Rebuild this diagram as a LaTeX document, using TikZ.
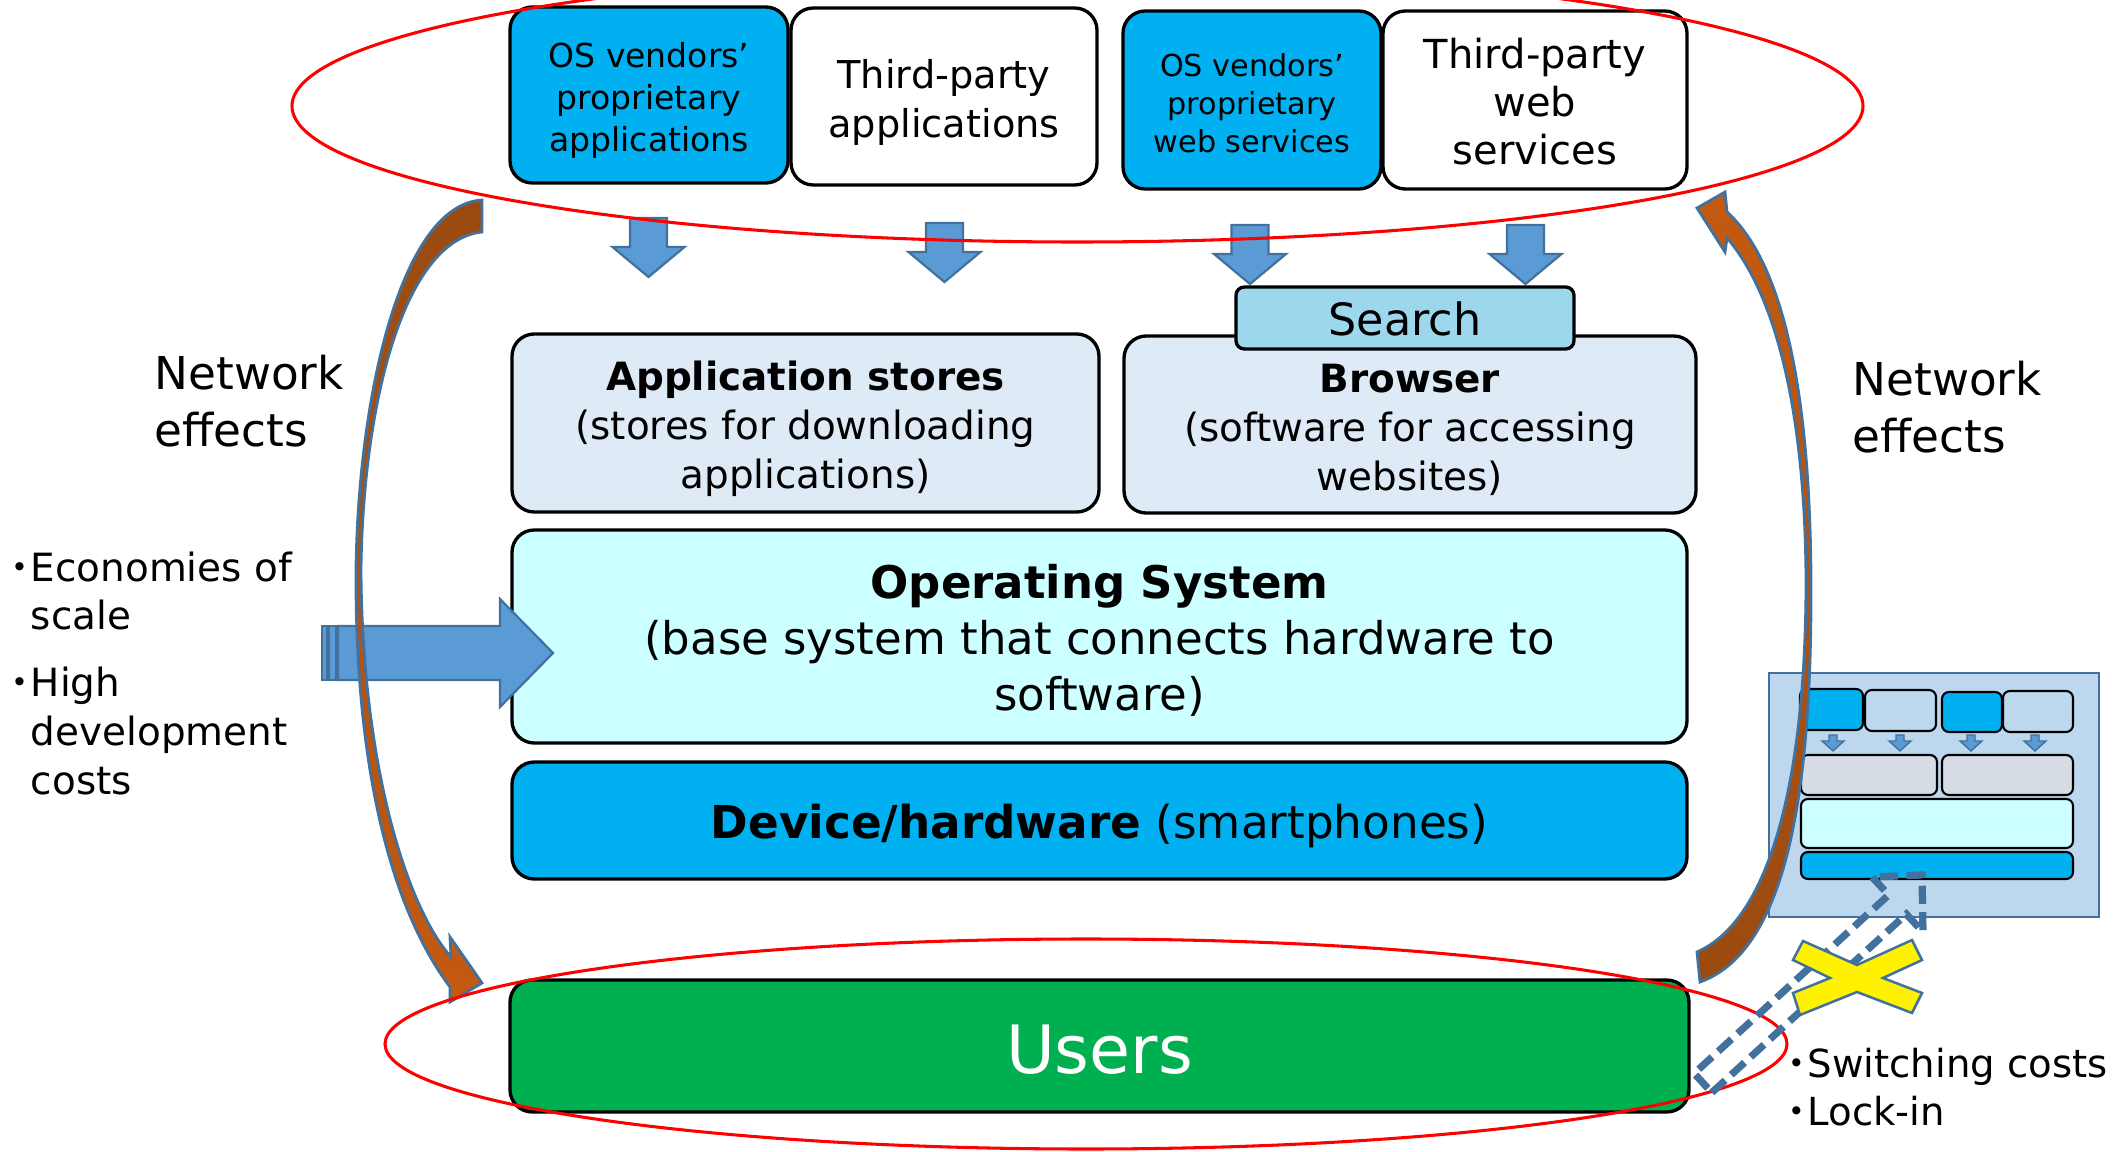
\documentclass[tikz,border=0pt]{standalone}
\usepackage{fontspec}
\setmainfont{DejaVu Sans}
\newfontfamily\jpfont{Noto Sans CJK JP}
\newcommand\jdot{{\jpfont ・}\kern-0.22em}
\newcommand\setfs[2]{\fontsize{#1}{#2}\selectfont}
\definecolor{cblue}{HTML}{00B0F0}
\definecolor{clight}{HTML}{DEEBF7}
\definecolor{csearch}{HTML}{9DD7EB}
\definecolor{cos}{HTML}{CCFFFF}
\definecolor{cgreen}{HTML}{00B050}
\definecolor{arrfill}{HTML}{5B9BD5}
\definecolor{arredge}{HTML}{41719C}
\definecolor{brownA}{HTML}{9A4A10}
\definecolor{brownB}{HTML}{C55A11}
\definecolor{panelfill}{HTML}{BDD7EE}
\definecolor{pgrey}{HTML}{D6DCE4}
\tikzset{
 box/.style={draw=black, line width=1.2pt, rounded corners=8pt, inner sep=0pt},
 boxtext/.style={align=center, inner sep=0pt, yshift=-2pt},
 blockarrow/.style={fill=arrfill, draw=arredge, line width=0.8pt, line join=miter},
 ring/.style={draw=red, line width=1.1pt},
 curvearrow/.style={draw=arredge, line width=1pt, line join=miter},
 sbox/.style={draw=black, line width=0.75pt, rounded corners=2.5pt},
 panel/.style={fill=panelfill, draw=arredge, line width=0.8pt},
 dashblock/.style={draw=arredge, line width=2.6pt, dash pattern=on 6.5pt off 3pt, line join=miter},
 cross/.style={fill=yellow, draw=arredge, line width=0.9pt, line join=miter},
 lbl/.style={inner sep=0pt, align=left, anchor=west},
}
% name, box style, text style, x1, y1, x2, y2, text
\newcommand\mkbox[8]{\node[box,#2,minimum width={(#6-#4)*0.36pt},minimum height={(#7-#5)*0.36pt}] (#1) at ({(#4+#6)/2},{(#5+#7)/2}) {};
 \node[boxtext,#3] (#1-text) at (#1.center) {#8};}
\newcommand\bigdown[2]{\draw[blockarrow] ({#1-18.5},#2) -- ({#1+18.5},#2) -- ({#1+18.5},{#2+29}) -- ({#1+36},{#2+29}) -- (#1,{#2+59}) -- ({#1-36},{#2+29}) -- ({#1-18.5},{#2+29}) -- cycle;}
\newcommand\smalldown[2]{\draw[blockarrow,line width=0.5pt] ({#1-4},#2) -- ({#1+4},#2) -- ({#1+4},{#2+6}) -- ({#1+11},{#2+6}) -- (#1,{#2+16}) -- ({#1-11},{#2+6}) -- ({#1-4},{#2+6}) -- cycle;}
\begin{document}
\begin{tikzpicture}[x=0.36pt,y=-0.36pt]
\useasboundingbox (0,0) rectangle (2123,1152);
\clip (0,0) rectangle (2123,1152);
\fill[white] (0,0) rectangle (2123,1152);

% top row
\mkbox{b1}{fill=cblue}{font=\setfs{11.9}{15.1}}{510}{7}{788}{183}{OS vendors’\\proprietary\\applications}
\mkbox{b2}{fill=white}{font=\setfs{13.8}{17.6}}{791}{8}{1097}{185}{Third-party\\applications}
\mkbox{b3}{fill=cblue}{font=\setfs{10.9}{13.7},yshift=1pt}{1123}{11}{1381}{189}{OS vendors’\\proprietary\\web services}
\mkbox{b4}{fill=white}{font=\setfs{14.4}{17.3},yshift=1.5pt}{1383}{11}{1687}{189}{Third-party\\web\\services}

% down arrows
\bigdown{648.5}{218}
\bigdown{944.5}{223}
\bigdown{1250}{225}
\bigdown{1525.5}{225}

% middle layer
\mkbox{stores}{fill=clight}{font=\setfs{14}{17.6}}{512}{334}{1099}{512}{\textbf{Application stores}\\(stores for downloading\\applications)}
\mkbox{browser}{fill=clight}{font=\setfs{14}{17.6}}{1124}{336}{1696}{513}{\textbf{Browser}\\(software for accessing\\websites)}
\mkbox{search}{fill=csearch,rounded corners=3pt}{font=\setfs{16}{19},yshift=1.5pt}{1236}{287}{1574}{349}{Search}
\mkbox{os}{fill=cos}{font=\setfs{16.2}{20.2},yshift=0.5pt}{512}{530}{1687}{743}{\textbf{Operating System}\\(base system that connects hardware to\\software)}
\mkbox{device}{fill=cblue}{font=\setfs{16.3}{19.5}}{512}{762}{1687}{879}{\textbf{Device/hardware} (smartphones)}
\mkbox{users}{fill=cgreen}{text=white,font=\setfs{24}{28},yshift=0.5pt}{510}{980}{1689}{1112}{Users}

% side labels
\node[lbl,font=\setfs{16.3}{20.5}] (ne1) at (154,401) {Network\\effects};
\node[lbl,font=\setfs{16.3}{20.5}] (ne2) at (1852,407) {Network\\effects};
\node[lbl,font=\setfs{14}{17.6}] (eco) at (0,591) {\jdot Economies of\\\phantom{\jdot}scale};
\node[lbl,font=\setfs{14}{17.6}] (dev) at (0,731) {\jdot High\\\phantom{\jdot}development\\\phantom{\jdot}costs};
\node[lbl,font=\setfs{13.9}{17.3}] (sw) at (1777,1087) {\jdot Switching costs\\\jdot Lock-in};

% striped arrow into OS
\draw[blockarrow] (322,626) rectangle (327,680);
\draw[blockarrow] (329,626) rectangle (336,680);
\draw[blockarrow] (338,626) -- (500,626) -- (500,599) -- (553,653) -- (500,707) -- (500,680) -- (338,680) -- cycle;

% small panel
\draw[panel] (1769,673) rectangle (2099,917);
\draw[sbox,fill=cblue] (1800,689) rectangle (1863,730);
\draw[sbox,fill=panelfill] (1865,690) rectangle (1936,731);
\draw[sbox,fill=cblue] (1942,692) rectangle (2002,732);
\draw[sbox,fill=panelfill] (2003,691) rectangle (2073,732);
\smalldown{1833}{735}
\smalldown{1900}{735}
\smalldown{1971}{735}
\smalldown{2035}{735}
\draw[sbox,fill=pgrey] (1801,755) rectangle (1937,795);
\draw[sbox,fill=pgrey] (1942,755) rectangle (2073,795);
\draw[sbox,fill=cos] (1801,799) rectangle (2073,848);
\draw[sbox,fill=cblue] (1801,852) rectangle (2073,879);

% curved arrows (network effects)
\shadedraw[curvearrow, top color=brownA, bottom color=brownB]
 (482,200) .. controls (400,205) and (358,400) .. (356,570)
 .. controls (355,750) and (385,900) .. (450,987)
 -- (450,1002) -- (482,983) -- (450,937) -- (451,957)
 .. controls (405,905) and (362,760) .. (361,570)
 .. controls (363,400) and (405,240) .. (482,232) -- cycle;
\shadedraw[curvearrow, top color=brownB, bottom color=brownA]
 (1697,952) -- (1700,982)
 .. controls (1790,950) and (1812,780) .. (1811,580)
 .. controls (1810,380) and (1780,260) .. (1727,212)
 -- (1725,192) -- (1697,208) -- (1725,252) -- (1727,238)
 .. controls (1772,290) and (1805,400) .. (1806,580)
 .. controls (1806,780) and (1770,920) .. (1697,952) -- cycle;

% red rings
\draw[ring] (1077.5,106) ellipse [x radius=785.5, y radius=136];
\draw[ring] (1086,1044) ellipse [x radius=701, y radius=105];

% switching arrow (dashed) and cross
\draw[dashblock] (1711.8,1092.6) -- (1906.3,914.1) -- (1923,932) -- (1922,875) -- (1872,877) -- (1888.7,894.9) -- (1694.2,1073.4) -- cycle;
\draw[cross] (1803,941) -- (1857,965) -- (1912,940) -- (1922,960) -- (1883,978) -- (1922,993) -- (1912,1013) -- (1857,992) -- (1800,1015) -- (1793,993) -- (1830,978) -- (1793,960) -- cycle;
\end{tikzpicture}
\end{document}
